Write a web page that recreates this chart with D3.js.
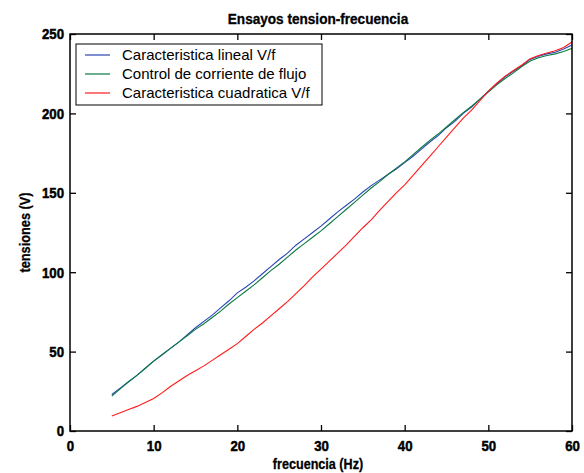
<!DOCTYPE html>
<html>
<head>
<meta charset="utf-8">
<script src="https://cdn.jsdelivr.net/npm/d3@7"></script>
<style>
  body { margin: 0; background: #fff; }
  svg { display: block; }
</style>
</head>
<body>
<script>
// frequencies (Hz), one sample per Hz
const freqs = d3.range(5, 61);

// Caracteristica lineal V/f
const lineal = [23, 27, 31, 35, 39.5, 44, 48, 52, 56, 60.5, 65, 69, 73, 77.5, 82, 87, 90.5, 94.5, 99, 103.5,
  108, 112, 117, 121, 125, 129, 133.5, 138, 142, 146, 150.5, 154.5, 158, 161.5, 165, 169, 173, 177.5, 182, 186,
  191, 195, 200, 204, 209, 214, 218.5, 223, 226.5, 230, 234, 236, 237.5, 238.5, 240.5, 243];

// Control de corriente de flujo
const control = [22, 26.5, 31, 35, 39.5, 44, 48, 52, 56, 60, 64, 67.5, 71.5, 75.5, 80, 84, 88, 92, 96.5, 101,
  105, 109.5, 114, 118, 122, 126, 130.5, 135, 139.5, 144, 148.5, 153, 157, 161.5, 165.5, 169.5, 174, 178.5, 183, 187,
  191.5, 196, 200.5, 204.5, 209, 213.5, 218, 222, 225.5, 229.5, 233, 235, 236.5, 237.5, 239, 241];

// Caracteristica cuadratica V/f
const cuadratica = [9.5, 11.5, 13.5, 15.5, 18, 20.5, 24, 28, 31.5, 35, 38, 41, 44.5, 48, 51.5, 55, 59.5, 64, 68, 72.5,
  77, 81.5, 86.5, 91.5, 97, 102, 107, 112, 117, 122.5, 128, 133, 139, 144.5, 150, 155, 161, 167, 173, 179,
  185, 191, 197, 202, 208, 214, 219, 223.5, 227, 230.5, 234.5, 236.5, 238, 239.5, 241.5, 245];

const xTicks = [0, 10, 20, 30, 40, 50, 60];
const yTicks = [0, 50, 100, 150, 200, 250];

const series = [
  { name: "Caracteristica lineal V/f", values: lineal, color: "#2a44b8" },
  { name: "Control de corriente de flujo", values: control, color: "#0a7a40" },
  { name: "Caracteristica cuadratica V/f", values: cuadratica, color: "#ff1a1a" }
];

const width = 584, height = 473;
const margin = { top: 34, right: 12, bottom: 42, left: 70 };
const boldFont = "'Liberation Sans', Arial, sans-serif";

const svg = d3.select("body").append("svg")
    .attr("width", width)
    .attr("height", height);

const x = d3.scaleLinear().domain([0, 60]).range([margin.left, width - margin.right]);
const y = d3.scaleLinear().domain([0, 250]).range([height - margin.bottom, margin.top]);

// squeeze bold text horizontally, the original looks condensed
function squeeze(sel, factor) {
  sel.each(function() {
    const w = this.getComputedTextLength();
    d3.select(this)
      .attr("textLength", w * factor)
      .attr("lengthAdjust", "spacingAndGlyphs");
  });
}

// series lines
const line = d3.line()
    .x((d, i) => x(freqs[i]))
    .y(d => y(d));

svg.append("g")
  .selectAll("path")
  .data(series)
  .enter().append("path")
    .attr("fill", "none")
    .attr("stroke", d => d.color)
    .attr("stroke-width", 1.1)
    .attr("d", d => line(d.values));

// axes: ticks pointing inward, mirrored on top and right
const tickLen = 6;
svg.append("g")
    .attr("transform", `translate(0,${y(0)})`)
    .call(d3.axisBottom(x).tickValues(xTicks).tickSizeInner(-tickLen).tickSizeOuter(0).tickPadding(9))
    .call(g => g.select(".domain").remove());

svg.append("g")
    .attr("transform", `translate(0,${y(250)})`)
    .call(d3.axisTop(x).tickValues(xTicks).tickSizeInner(-tickLen).tickSizeOuter(0).tickFormat(""))
    .call(g => g.select(".domain").remove());

svg.append("g")
    .attr("transform", `translate(${x(0)},0)`)
    .call(d3.axisLeft(y).tickValues(yTicks).tickSizeInner(-tickLen).tickSizeOuter(0).tickPadding(6))
    .call(g => g.select(".domain").remove());

svg.append("g")
    .attr("transform", `translate(${x(60)},0)`)
    .call(d3.axisRight(y).tickValues(yTicks).tickSizeInner(-tickLen).tickSizeOuter(0).tickFormat(""))
    .call(g => g.select(".domain").remove());

svg.selectAll(".tick line").attr("stroke", "#000").attr("stroke-width", 1.3);
svg.selectAll(".tick text")
    .attr("fill", "#000")
    .attr("stroke", "#000")
    .attr("stroke-width", 0.5)
    .style("font-family", boldFont)
    .style("font-weight", "bold")
    .style("font-size", "15px")
    .call(squeeze, 0.88);

// plot box
svg.append("rect")
    .attr("x", x(0))
    .attr("y", y(250))
    .attr("width", x(60) - x(0))
    .attr("height", y(0) - y(250))
    .attr("fill", "none")
    .attr("stroke", "#000")
    .attr("stroke-width", 1.5);

// title and axis labels
svg.append("text")
    .attr("x", (x(0) + x(60)) / 2 - 3)
    .attr("y", 24)
    .attr("text-anchor", "middle")
    .attr("stroke", "#000")
    .attr("stroke-width", 0.3)
    .style("font-family", boldFont)
    .style("font-weight", "bold")
    .style("font-size", "14px")
    .text("Ensayos tension-frecuencia")
    .call(squeeze, 0.97);

svg.append("text")
    .attr("x", (x(0) + x(60)) / 2 - 3)
    .attr("y", 469)
    .attr("text-anchor", "middle")
    .attr("stroke", "#000")
    .attr("stroke-width", 0.3)
    .style("font-family", boldFont)
    .style("font-weight", "bold")
    .style("font-size", "15px")
    .text("frecuencia (Hz)")
    .call(squeeze, 0.84);

svg.append("text")
    .attr("transform", `translate(30,${(y(0) + y(250)) / 2}) rotate(-90)`)
    .attr("text-anchor", "middle")
    .attr("stroke", "#000")
    .attr("stroke-width", 0.3)
    .style("font-family", boldFont)
    .style("font-weight", "bold")
    .style("font-size", "15px")
    .text("tensiones (V)")
    .call(squeeze, 0.85);

// legend
const legend = svg.append("g").attr("transform", "translate(76,44)");
legend.append("rect")
    .attr("width", 246)
    .attr("height", 61)
    .attr("fill", "#fff")
    .attr("stroke", "#000")
    .attr("stroke-width", 1);

const entry = legend.selectAll(".entry")
    .data(series)
    .enter().append("g")
    .attr("class", "entry")
    .attr("transform", (d, i) => `translate(0,${11 + i * 19})`);

entry.append("line")
    .attr("x1", 9).attr("x2", 34)
    .attr("stroke", d => d.color)
    .attr("stroke-width", 1.2);

entry.append("text")
    .attr("x", 46)
    .attr("dy", "0.35em")
    .style("font-family", "Arial, 'Liberation Sans', sans-serif")
    .style("font-size", "15px")
    .text(d => d.name);
</script>
</body>
</html>
